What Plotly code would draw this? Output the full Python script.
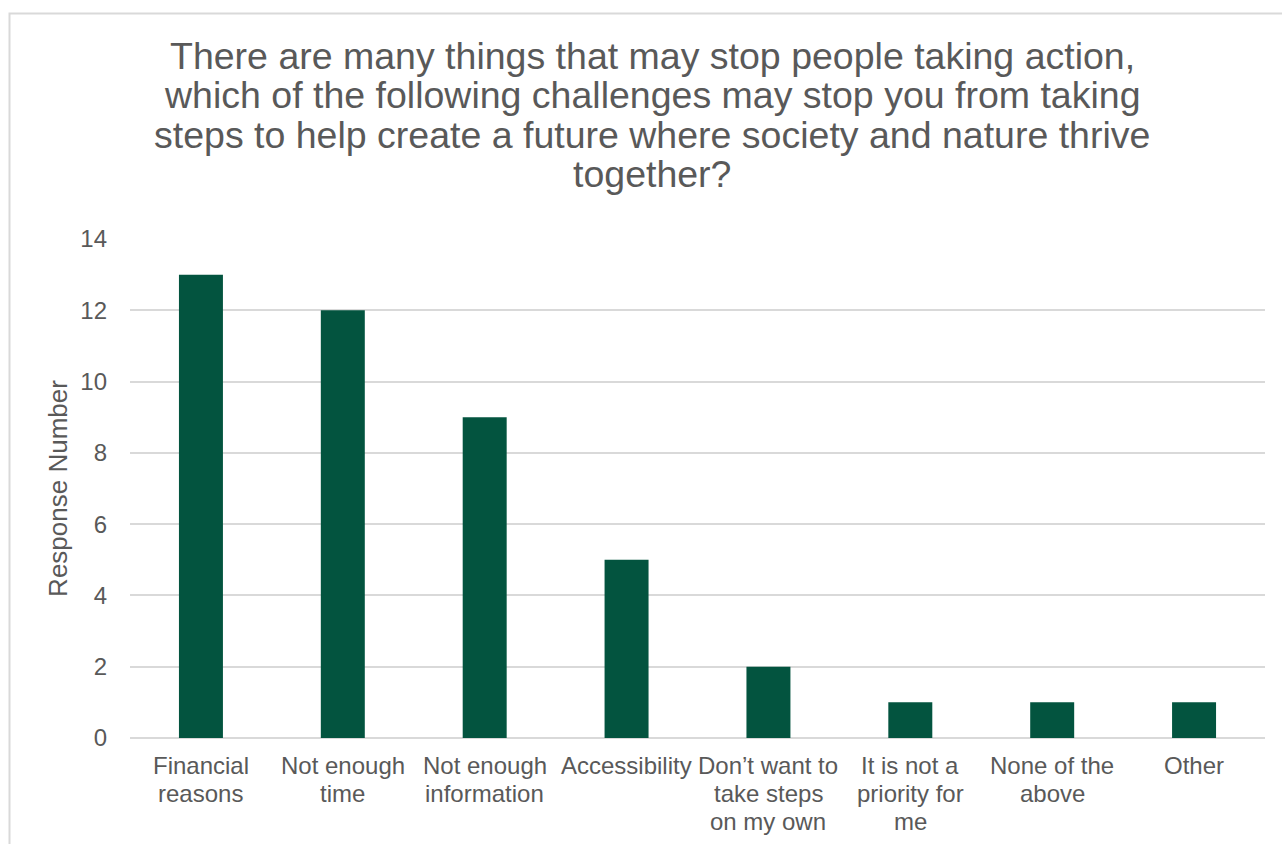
import plotly.graph_objects as go

categories = [
    "Financial\nreasons",
    "Not enough\ntime",
    "Not enough\ninformation",
    "Accessibility",
    "Don’t want to\ntake steps\non my own",
    "It is not a\npriority for\nme",
    "None of the\nabove",
    "Other",
]
responses = [13, 12, 9, 5, 2, 1, 1, 1]
y_ticks = [0, 2, 4, 6, 8, 10, 12, 14]

title_lines = [
    "There are many things that may stop people taking action,",
    "which of the following challenges may stop you from taking",
    "steps to help create a future where society and nature thrive",
    "together?",
]

FONT = "Liberation Sans, Arial, sans-serif"
TEXT = "#595959"
GRID = "#D9D9D9"
BAR = "#03543F"

W, H = 1282, 844
L, R, T, B = 130, 17, 239, 106
pw = W - L - R
ph = H - T - B


def py(pixel_y):
    """Convert a pixel row (from the top of the figure) to paper y."""
    return (H - B - pixel_y) / ph


def px(pixel_x):
    return (pixel_x - L) / pw


fig = go.Figure(
    go.Bar(
        x=list(range(len(categories))),
        y=responses,
        marker=dict(color=BAR, line=dict(width=0)),
        width=0.31,
    )
)

fig.update_layout(
    width=W,
    height=H,
    margin=dict(l=L, r=R, t=T, b=B),
    paper_bgcolor="white",
    plot_bgcolor="white",
    font=dict(family=FONT, color=TEXT, size=24),
    showlegend=False,
    xaxis=dict(
        range=[-0.5, len(categories) - 0.5],
        showgrid=False,
        showline=False,
        showticklabels=False,
        ticks="",
        zeroline=False,
    ),
    yaxis=dict(
        range=[0, 14],
        tickvals=y_ticks,
        showgrid=True,
        gridcolor=GRID,
        gridwidth=1.5,
        zeroline=True,
        zerolinecolor=GRID,
        zerolinewidth=2,
        showline=False,
        ticks="",
        ticklabelstandoff=22,
        tickfont=dict(size=24, color=TEXT),
        title=dict(text="Response Number", font=dict(size=26, color=TEXT), standoff=5),
    ),
)

annotations = []

# multi-line title, one annotation per line for tight line spacing
for i, line in enumerate(title_lines):
    annotations.append(dict(
        text=line, xref="paper", yref="paper",
        x=px(652), y=py(56 + 39.3 * i),
        xanchor="center", yanchor="middle", showarrow=False,
        font=dict(family=FONT, size=37.5, color=TEXT),
    ))

# category labels under each bar
for idx, label in enumerate(categories):
    for j, line in enumerate(label.split("\n")):
        annotations.append(dict(
            text=line, xref="x", yref="paper",
            x=idx, y=py(765 + 28 * j),
            xanchor="center", yanchor="middle", showarrow=False,
            font=dict(family=FONT, size=24, color=TEXT),
        ))

fig.update_layout(annotations=annotations)

# chart frame border, extending past the right and bottom edges
fig.add_shape(
    type="rect",
    xref="paper",
    yref="paper",
    x0=px(9.5),
    x1=px(W + 20),
    y0=py(H + 20),
    y1=py(13.5),
    line=dict(color=GRID, width=2),
    fillcolor="rgba(0,0,0,0)",
    layer="below",
)

fig.write_html("out.html")
